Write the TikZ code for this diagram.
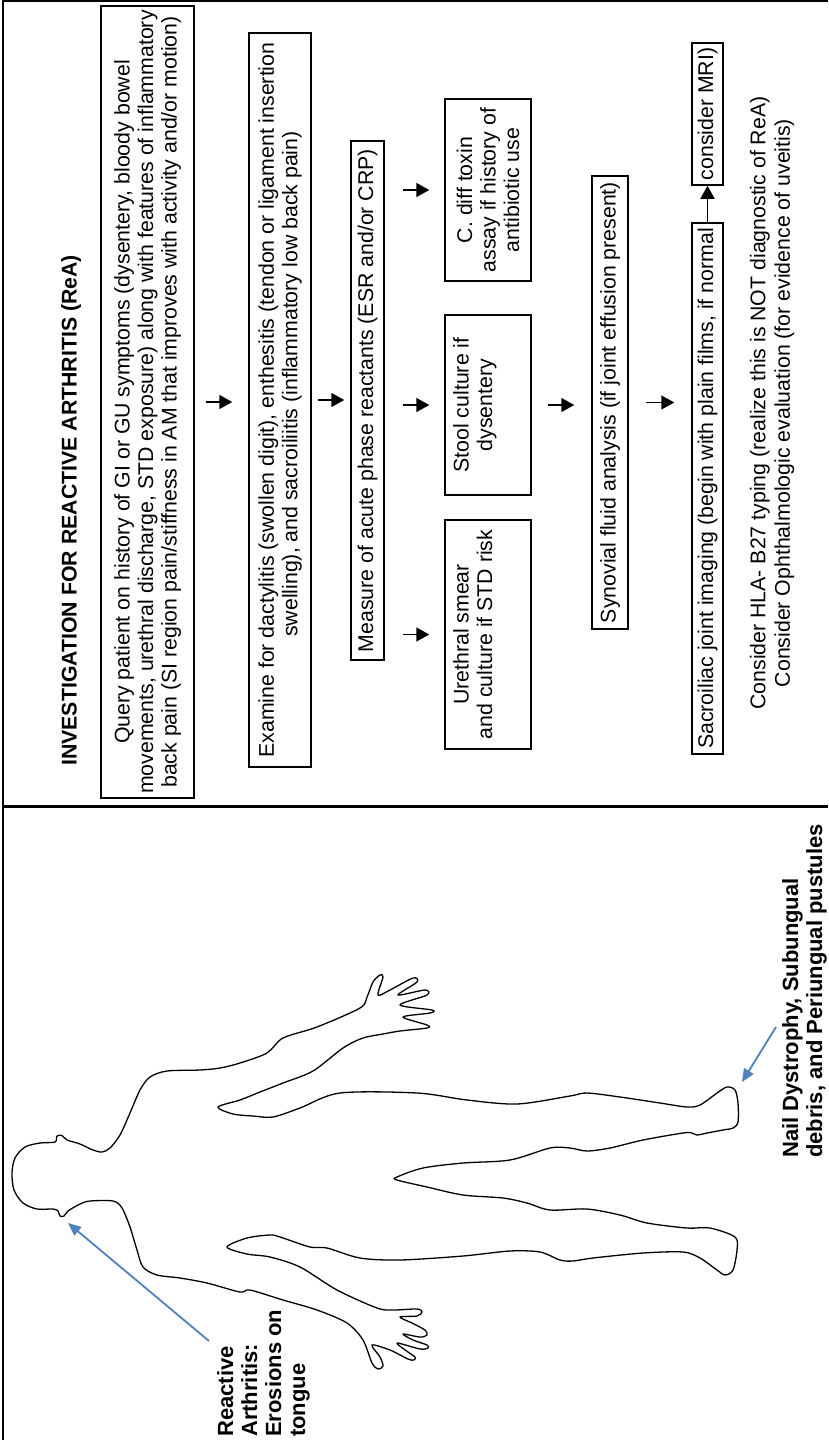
\documentclass[tikz,border=0pt]{standalone}
\usepackage{fontspec}
\setmainfont{Liberation Sans}
\usetikzlibrary{arrows.meta}

\newcommand{\boxfont}{\fontsize{21.3}{23.5}\selectfont}
\newcommand{\notefont}{\fontsize{22}{24}\selectfont\bfseries}

\begin{document}
\begin{tikzpicture}[x=1pt,y=-1pt,
    flowbox/.style={shape=rectangle,draw,line width=1.5pt,rotate=90,inner sep=0pt,align=center,font=\boxfont},
    flowarrow/.style={-{Triangle[length=13pt,width=14pt]},line width=1.6pt},
    notearrow/.style={-{Triangle[length=13pt,width=11pt]},line width=1.8pt,color=rea_blue}]
    \definecolor{rea_blue}{RGB}{79,129,189}
    \useasboundingbox (0,0) rectangle (828,1440);

    % frame and divider
    \draw[line width=2.5pt] (3,1440) to (3,1) to (828,1);
    \draw[line width=2.5pt] (3,806.5) to (828,806.5);

    % flowchart (text runs bottom to top)
    \node[rotate=90,anchor=base west,inner sep=0pt,font=\boxfont\bfseries] (title) at (76.5,766) {INVESTIGATION FOR REACTIVE ARTHRITIS (ReA)};

    \node[flowbox,minimum width=792pt,minimum height=93pt] (query) at (147.5,402) {Query patient on history of GI or GU symptoms (dysentery, bloody bowel\\movements, urethral discharge, STD exposure) along with features of inflammatory\\back pain (SI region pain/stiffness in AM that improves with activity and/or motion)};
    \node[flowbox,minimum width=734pt,minimum height=62pt] (examine) at (280,400) {Examine for dactylitis (swollen digit), enthesitis (tendon or ligament insertion\\\hspace*{1.5em}swelling), and sacroiliitis (inflammatory low back pain)};
    \node[flowbox,minimum width=519pt,minimum height=33pt] (measure) at (367.5,400.5) {Measure of acute phase reactants (ESR and/or CRP)};

    \node[flowbox,minimum width=229pt,minimum height=86pt] (urethral) at (488,634.5) {Urethral smear\\and culture if STD risk\\\strut};
    \node[flowbox,minimum width=180pt,minimum height=86pt] (stool) at (488,405) {Stool culture if\\dysentery\\\strut};
    \node[flowbox,minimum width=182pt,minimum height=86pt] (cdiff) at (488,190) {C. diff toxin\\assay if history of\\antibiotic use};

    \node[flowbox,minimum width=453pt,minimum height=36pt] (synovial) at (610,402.5) {Synovial fluid analysis (if joint effusion present)};
    \node[flowbox,minimum width=531pt,minimum height=31pt] (sacro) at (707.5,488.5) {Sacroiliac joint imaging (begin with plain films, if normal};
    \node[flowbox,minimum width=142pt,minimum height=31pt] (mri) at (707.5,114) {consider MRI)};

    \node[rotate=90,align=center,inner sep=0pt,font=\fontsize{21.3}{24.5}\selectfont] (consider) at (772,403) {Consider HLA- B27 typing (realize this is NOT diagnostic of ReA)\\Consider Ophthalmologic evaluation (for evidence of uveitis)};

    \draw[flowarrow,shorten <=11pt,shorten >=16pt] (query.south) to (query.south -| examine.north);
    \draw[flowarrow,shorten <=6pt,shorten >=6pt] (examine.south) to (examine.south -| measure.north);
    \draw[flowarrow,shorten <=18pt,shorten >=15pt] (measure.south |- urethral.center) to (urethral.north);
    \draw[flowarrow,shorten <=18pt,shorten >=15pt] (measure.south |- stool.center) to (stool.north);
    \draw[flowarrow,shorten <=18pt,shorten >=15pt] (measure.south |- cdiff.center) to (cdiff.north);
    \draw[flowarrow,shorten <=16pt,shorten >=17pt] (stool.south) to (stool.south -| synovial.north);
    \draw[flowarrow,shorten <=17pt,shorten >=17pt] (synovial.south) to (synovial.south -| sacro.north);
    \draw[flowarrow] (sacro.east) to (mri.west);

    % body outline
    \draw[line width=1.3pt,line join=round] plot[smooth cycle,tension=0.5] coordinates {
        (55,1142) (57,1136) (62,1135.5) (67,1140)
        (80,1144) (93,1150) (102,1152) (110,1148) (120,1135) (130,1113) (140,1090) (150,1077) (167,1071) (200,1070) (220,1068) (240,1063) (267,1053)
        (283,1038) (317,1027) (360,1008)
        (367,997) (373,982) (380,975) (383,977) (378,995)
        (390,990) (413,978) (417,982) (398,995)
        (425,990) (427,995) (400,1005)
        (432,1010) (430,1013) (403,1017)
        (427,1025) (427,1028) (400,1031)
        (383,1034) (363,1038) (343,1048) (313,1071) (283,1083) (260,1092) (240,1100) (218,1107)
        (233,1114) (253,1116) (273,1117) (300,1108) (340,1093) (417,1093) (467,1100) (517,1104) (570,1096)
        (587,1093) (620,1097) (660,1103) (687,1107) (700,1105) (717,1093) (727,1087) (735,1090) (738,1103) (738,1122) (733,1128) (723,1130) (707,1133) (697,1135) (692,1133) (683,1133) (643,1140) (610,1148) (587,1151) (570,1148) (550,1148)
        (510,1160) (463,1163) (423,1168) (397,1177)
        (397,1180) (427,1187) (463,1195) (503,1198) (527,1203) (550,1210) (587,1209) (620,1215) (647,1223) (687,1228) (710,1228) (735,1237) (737,1250) (733,1270) (725,1275) (717,1270) (700,1258) (683,1252) (643,1253) (593,1258) (573,1261) (560,1260)
        (540,1252) (510,1251) (463,1256) (400,1260) (360,1258) (327,1248) (310,1247) (280,1237) (270,1235) (247,1238) (227,1247)
        (247,1254) (270,1257) (300,1267) (337,1290) (377,1308) (393,1310)
        (417,1309) (422,1312) (417,1316) (400,1317)
        (412,1323) (425,1330) (427,1335) (420,1337) (403,1334)
        (413,1340) (427,1345) (428,1348) (420,1349) (397,1343)
        (408,1352) (415,1357) (414,1360) (408,1359) (390,1350) (372,1345)
        (380,1357) (383,1366) (378,1369) (372,1363) (363,1340) (347,1323)
        (317,1310) (283,1300) (250,1290)
        (240,1292) (207,1283) (180,1278) (157,1275) (143,1267) (137,1250) (130,1227) (122,1208) (113,1201) (90,1201) (80,1204) (68,1211)
        (64,1216) (60,1216) (58,1211) (53,1209)
        (37,1209) (23,1203) (14,1190) (12,1173) (15,1158) (25,1147) (40,1143)
    };

    % findings
    \node[rotate=90,anchor=north west,align=left,inner sep=0pt,font=\notefont] (tongue_label) at (217,1437) {Reactive\\Arthritis:\\Erosions on\\tongue};
    \node[rotate=90,anchor=north west,align=left,inner sep=0pt,font=\notefont] (nail_label) at (782,1158) {Nail Dystrophy, Subungual\\debris, and Periungual pustules};

    \coordinate (tongue_tail) at (209,1341);
    \coordinate (tongue_tip) at (68,1223);
    \coordinate (toe_tail) at (776,1027);
    \coordinate (toe_tip) at (742,1082);
    \draw[notearrow] (tongue_tail) to (tongue_tip);
    \draw[notearrow] (toe_tail) to (toe_tip);

\end{tikzpicture}
\end{document}
